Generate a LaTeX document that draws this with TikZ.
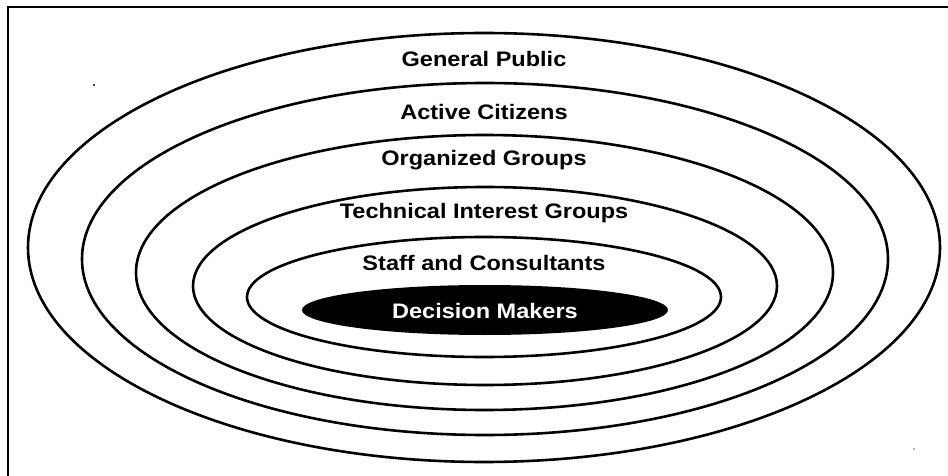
\documentclass[tikz,border=0pt]{standalone}
\usepackage{fontspec}
\newfontfamily\labfont[FakeStretch=1.12]{Liberation Sans}
\begin{document}
\begin{tikzpicture}[x=1pt,y=-1pt,
  ring/.style={draw=black,line width=2.6pt},
  lab/.style={font=\labfont\bfseries\fontsize{21}{24}\selectfont,inner sep=0pt,anchor=center},
  frameline/.style={draw=black,line width=2pt}]
\useasboundingbox (0,0) rectangle (948,476);
% frame (top and left edges)
\coordinate (ftl) at (8,7);
\coordinate (ftr) at (948,7);
\coordinate (fbl) at (8,476);
\draw[frameline] (fbl) -- (ftl) -- (ftr);
% rings
\draw[ring] (484,247.5) ellipse [x radius=456, y radius=214.5];
\draw[ring] (485,259) ellipse [x radius=403, y radius=176];
\draw[ring] (484.5,272.5) ellipse [x radius=348.5, y radius=137.5];
\draw[ring] (485,286) ellipse [x radius=292, y radius=99];
\draw[ring] (484,297) ellipse [x radius=237, y radius=60];
\fill[black] (485,310) ellipse [x radius=183, y radius=25];
% labels
\node[lab] (gp) at (484,59) {General Public};
\node[lab] (ac) at (484,112) {Active Citizens};
\node[lab] (og) at (484,160) {Organized Groups};
\node[lab] (ti) at (484,213) {Technical Interest Groups};
\node[lab] (sc) at (484,263) {Staff and Consultants};
\node[lab,text=white] (dm) at (485,311) {Decision Makers};
% specks
\fill[black] (94,85) circle (1.2);
\fill[black!60] (914,449) circle (0.9);
\end{tikzpicture}
\end{document}
